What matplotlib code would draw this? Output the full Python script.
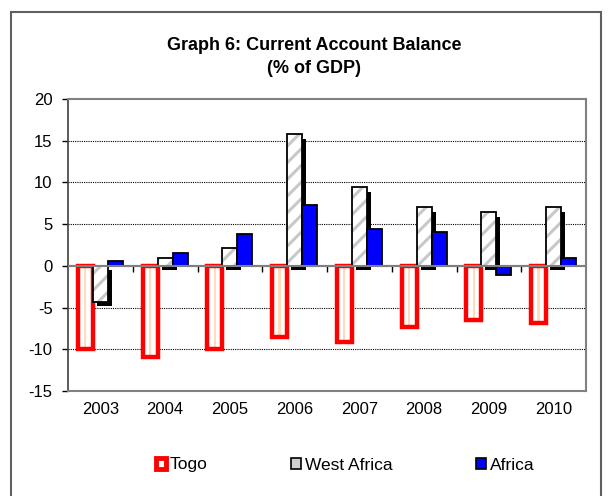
import numpy as np
import matplotlib.pyplot as plt
from matplotlib.patches import Patch, Rectangle
from matplotlib.transforms import ScaledTranslation

years = ['2003', '2004', '2005', '2006', '2007', '2008', '2009', '2010']
togo = [-10.0, -10.9, -10.0, -8.5, -9.1, -7.3, -6.5, -6.8]
west_africa = [-4.3, 0.9, 2.2, 15.8, 9.4, 7.0, 6.4, 7.0]
africa = [0.6, 1.6, 3.8, 7.3, 4.4, 4.0, -1.1, 0.9]

plt.rcParams['font.family'] = ['Liberation Sans', 'DejaVu Sans']
plt.rcParams['hatch.linewidth'] = 2.2
plt.rcParams['axes.unicode_minus'] = False

fig = plt.figure(figsize=(6.09, 4.96), dpi=100)
ax = fig.add_axes([68/609, 1-391/496, (586-68)/609, (391-99)/496])

x = np.arange(len(years))
w = 0.232

# Togo: white bar, peach centre stripe, thick red outline
ax.bar(x - w, togo, w, color='white', linewidth=0, zorder=2)
ax.bar(x - w, togo, w*0.15, color='#FFDDB8', linewidth=0, zorder=2.5)
ax.bar(x - w, togo, w, facecolor='none', edgecolor='#FF0000', linewidth=3.2, zorder=3)

# West Africa: black drop shadow, grey hatch, black outline
shadow = ax.bar(x, west_africa, w, color='black', linewidth=0, zorder=2)
off = ax.transData + ScaledTranslation(4/100, -4.5/100, fig.dpi_scale_trans)
for p in shadow:
    p.set_transform(off)
ax.bar(x, west_africa, w, facecolor='white', edgecolor='#C8C8C8', hatch='//', linewidth=0, zorder=3)
ax.bar(x, west_africa, w, facecolor='none', edgecolor='black', linewidth=1.3, zorder=4)

# Africa
ax.bar(x + w, africa, w, color='#0000FF', edgecolor='black', linewidth=1.3, zorder=4)

ax.set_ylim(-15, 20)
ax.set_xlim(-0.5, len(years) - 0.5)
ax.set_yticks(range(-15, 21, 5))
ax.tick_params(axis='y', direction='out', length=4, width=1, pad=7, labelsize=12)
ax.set_xticks(x)
ax.set_xticklabels(years)
ax.tick_params(axis='x', length=0, pad=8, labelsize=12)

for v in [-10, -5, 5, 10, 15]:
    ax.axhline(v, color='black', linestyle=(0, (1, 1)), linewidth=0.8, zorder=1)

for s in ['top', 'right', 'bottom']:
    ax.spines[s].set_color('#808080')
    ax.spines[s].set_linewidth(1.5)
ax.spines['left'].set_color('#404040')
ax.spines['left'].set_linewidth(1.2)

# category axis crossing at zero with tick marks between groups
zero_ax = ax.secondary_xaxis(15/35)
zero_ax.set_xticks(x[:-1] + 0.5)
zero_ax.set_xticklabels([])
zero_ax.tick_params(direction='out', length=4, width=1, color='black')
zero_ax.spines['bottom'].set_color('#808080')
zero_ax.spines['bottom'].set_linewidth(1.5)
ax.axhline(0, color='#808080', linewidth=1.5, zorder=5)

fig.text(314/609, 1-57/496, 'Graph 6: Current Account Balance\n(% of GDP)',
         ha='center', va='center', fontsize=13, fontweight='bold', linespacing=1.5)

handles = [Patch(facecolor='white', edgecolor='#FF0000', linewidth=3.5),
           Patch(facecolor='#D0D0D0', edgecolor='black', linewidth=1.2),
           Patch(facecolor='#0000FF', edgecolor='black', linewidth=1.2)]
fig.legend(handles, ['Togo', 'West Africa', 'Africa'], loc='center',
           bbox_to_anchor=(345/609, 1-465/496), ncol=3, frameon=False,
           fontsize=12.5, handlelength=0.6, handleheight=0.6, handletextpad=0.2,
           columnspacing=4.8)

fig.patches.append(Rectangle((11/609, -0.05), 590/609, 1.05-12/496,
                             transform=fig.transFigure, fill=False,
                             edgecolor='#606060', linewidth=1.5))

fig.savefig('out.png', dpi=100)
